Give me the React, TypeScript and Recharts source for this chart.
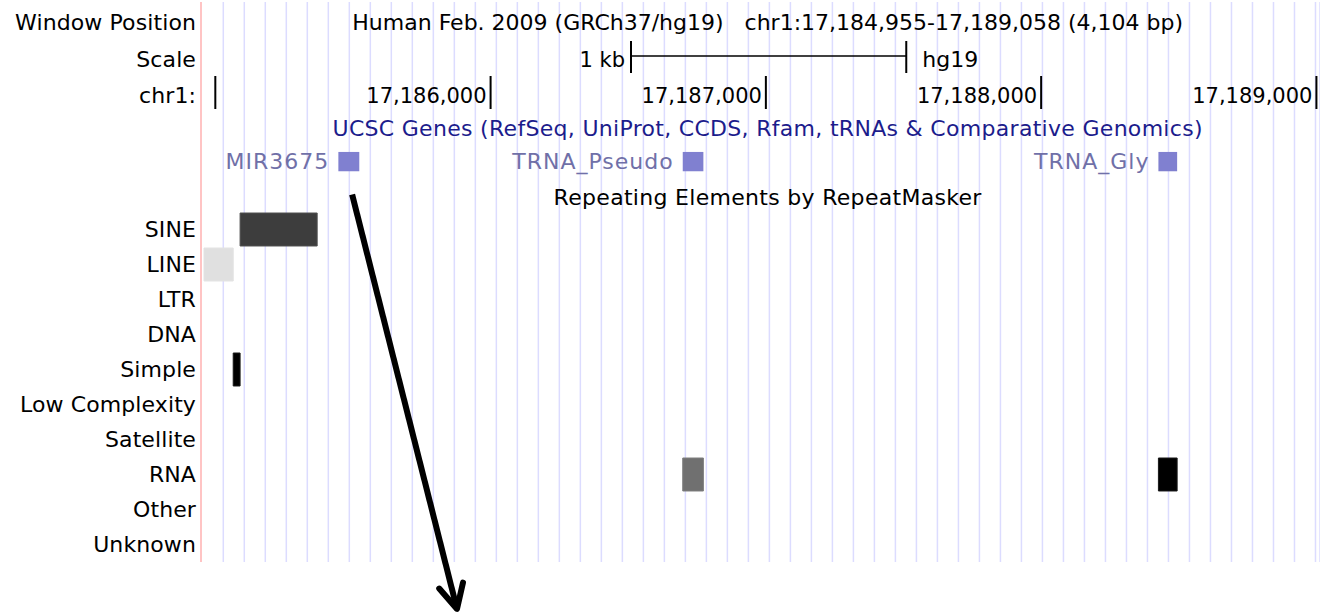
import React from 'react';
import {
  ComposedChart,
  XAxis,
  YAxis,
  CartesianGrid,
  ReferenceArea,
  ReferenceLine,
  ReferenceDot,
} from 'recharts';

// visible window (bp) and the browser's own window
const viewStart = 17184948;
const viewEnd = 17189013;
const windowMid = 17187006.5;

// left-hand track labels and the row each one sits on
const trackNames = [
  'Window Position', 'Scale', 'chr1:',
  'SINE', 'LINE', 'LTR', 'DNA', 'Simple', 'Low Complexity',
  'Satellite', 'RNA', 'Other', 'Unknown',
];
const trackRows = [0.086, 1.134, 2.18, 6, 7, 8, 9, 10, 11, 12, 13, 14, 15];

// header rows
const headerTitle = 'Human Feb. 2009 (GRCh37/hg19)   chr1:17,184,955-17,189,058 (4,104 bp)';
const geneTrackTitle = 'UCSC Genes (RefSeq, UniProt, CCDS, Rfam, tRNAs & Comparative Genomics)';
const repeatTrackTitle = 'Repeating Elements by RepeatMasker';
const headerRows = [0.086, 3.114, 5.086];

// scale bar
const scaleBar = [17186510, 17187510];
const scaleLabels = ['1 kb', 'hg19'];

// chromosome ruler
const chromTicks = [17185000, 17186000, 17187000, 17188000, 17189000];
const chromLabels = ['', '17,186,000', '17,187,000', '17,188,000', '17,189,000'];

// genes
const geneNames = ['MIR3675', 'TRNA_Pseudo', 'TRNA_Gly'];
const geneStarts = [17185447, 17186698, 17188426];
const geneEnds = [17185523, 17186773, 17188494];
const geneRow = 4.06;

// repeatmasker hits (score 0..1 -> gray shade)
const repeatClass = ['LINE', 'SINE', 'Simple', 'RNA', 'RNA'];
const repeatStarts = [17184959, 17185090, 17185065, 17186698, 17188426];
const repeatEnds = [17185065, 17185370, 17185090, 17186773, 17188494];
const repeatScores = [0.12, 0.76, 1, 0.56, 1];

// pointer drawn over the image
const arrowFrom = { x: 17185497, y: 5.0 };
const arrowTo = { x: 17185878, y: 16.84 };

// guideline positions
const gridTicks: number[] = [];
for (let t = 17185029; t < viewEnd; t += 76.3) gridTicks.push(t);

const FONT = '"DejaVu Sans", sans-serif';

const shade = (s: number) => {
  const v = Math.round(255 * (1 - s));
  return `rgb(${v},${v},${v})`;
};

const TrackTick = (props: any) => {
  const { x, y, payload } = props;
  const i = trackRows.indexOf(payload.value);
  return (
    <text x={x} y={y + 7.5} textAnchor="end" fontSize={22} letterSpacing={0.1} fontFamily={FONT} fill="#000">
      {trackNames[i]}
    </text>
  );
};

const textShape = (
  content: string,
  anchor: string,
  dx: number,
  fill = '#000',
  size = 22,
  spacing = 0
) => (p: any) => (
  <text
    x={p.cx + dx}
    y={p.cy + 7.5}
    textAnchor={anchor}
    fontSize={size}
    letterSpacing={spacing}
    fontFamily={FONT}
    fill={fill}
    style={{ whiteSpace: 'pre' }}
  >
    {content}
  </text>
);

const arrowShape = (p: any) => {
  const { x1, y1, x2, y2 } = p;
  const back = Math.atan2(y1 - y2, x1 - x2);
  const len = 27;
  const a1 = back + (27 * Math.PI) / 180;
  const a2 = back - (27 * Math.PI) / 180;
  return (
    <g>
      <line x1={x1} y1={y1} x2={x2} y2={y2} stroke="#000" strokeWidth={6} />
      <polyline
        points={`${x2 + len * Math.cos(a1)},${y2 + len * Math.sin(a1)} ${x2},${y2} ${x2 + len * Math.cos(a2)},${y2 + len * Math.sin(a2)}`}
        fill="none"
        stroke="#000"
        strokeWidth={6}
        strokeLinecap="round"
        strokeLinejoin="round"
      />
    </g>
  );
};

const rowOf = (name: string) => trackRows[trackNames.indexOf(name)];

export default function App() {
  return (
    <div style={{ position: 'absolute', left: 0, top: 0, background: '#fff', fontFamily: FONT }}>
      <ComposedChart width={1320} height={614} margin={{ top: 2, right: 0, bottom: 52, left: 0 }}>
        <CartesianGrid horizontal={false} stroke="#dcdcff" strokeWidth={1.5} />
        <XAxis
          type="number"
          dataKey="x"
          domain={[viewStart, viewEnd]}
          ticks={gridTicks}
          interval={0}
          allowDataOverflow
          hide
        />
        <YAxis
          type="number"
          domain={[-0.5, 15.5]}
          reversed
          allowDataOverflow
          width={201}
          ticks={trackRows}
          interval={0}
          axisLine={false}
          tickLine={false}
          tickSize={0}
          tickMargin={5}
          tick={<TrackTick />}
        />

        <ReferenceLine x={viewStart} stroke="#ffc4c4" strokeWidth={2} ifOverflow="visible" />

        {/* header */}
        <ReferenceDot x={windowMid} y={headerRows[0]} r={0} ifOverflow="visible"
          shape={textShape(headerTitle, 'middle', 0)} />
        <ReferenceDot x={windowMid} y={headerRows[1]} r={0} ifOverflow="visible"
          shape={textShape(geneTrackTitle, 'middle', 0, '#1c1c8c', 22, 0.3)} />
        <ReferenceDot x={windowMid} y={headerRows[2]} r={0} ifOverflow="visible"
          shape={textShape(repeatTrackTitle, 'middle', 0, '#000', 22, 0.3)} />

        {/* scale bar */}
        <ReferenceLine
          segment={[{ x: scaleBar[0], y: 1.043 }, { x: scaleBar[1], y: 1.043 }]}
          stroke="#000" strokeWidth={1.5} ifOverflow="visible"
        />
        {scaleBar.map((b) => (
          <ReferenceLine key={`sb-${b}`}
            segment={[{ x: b, y: 0.614 }, { x: b, y: 1.529 }]}
            stroke="#000" strokeWidth={2} ifOverflow="visible"
          />
        ))}
        <ReferenceDot x={scaleBar[0]} y={trackRows[1]} r={0} ifOverflow="visible"
          shape={textShape(scaleLabels[0], 'end', -6, '#000', 21)} />
        <ReferenceDot x={scaleBar[1]} y={trackRows[1]} r={0} ifOverflow="visible"
          shape={textShape(scaleLabels[1], 'start', 16, '#000', 22)} />

        {/* chromosome ruler */}
        {chromTicks.map((t) => (
          <ReferenceLine key={`ct-${t}`}
            segment={[{ x: t, y: 1.614 }, { x: t, y: 2.557 }]}
            stroke="#000" strokeWidth={2} ifOverflow="visible"
          />
        ))}
        {chromTicks.map((t, i) =>
          chromLabels[i] ? (
            <ReferenceDot key={`cl-${t}`} x={t} y={trackRows[2]} r={0} ifOverflow="visible"
              shape={textShape(chromLabels[i], 'end', -4, '#000', 21)} />
          ) : null
        )}

        {/* genes */}
        {geneNames.map((g, i) => (
          <ReferenceArea key={`g-${g}`}
            x1={geneStarts[i]} x2={geneEnds[i]} y1={geneRow - 0.276} y2={geneRow + 0.276}
            fill="#8080d0" fillOpacity={1} stroke="none" ifOverflow="visible"
          />
        ))}
        {geneNames.map((g, i) => (
          <ReferenceDot key={`gl-${g}`} x={geneStarts[i]} y={geneRow} r={0} ifOverflow="visible"
            shape={textShape(g, 'end', -9, '#7070a8', 22, 1.0)} />
        ))}

        {/* repeats */}
        {repeatClass.map((c, i) => (
          <ReferenceArea key={`r-${i}`}
            x1={repeatStarts[i]} x2={repeatEnds[i]}
            y1={rowOf(c) - 0.471} y2={rowOf(c) + 0.471}
            fill={shade(repeatScores[i])} fillOpacity={1}
            stroke={shade(repeatScores[i] * 0.9)} strokeWidth={1}
            ifOverflow="visible"
          />
        ))}

        {/* pointer */}
        <ReferenceLine segment={[arrowFrom, arrowTo]} ifOverflow="visible" shape={arrowShape} />
      </ComposedChart>
    </div>
  );
}
